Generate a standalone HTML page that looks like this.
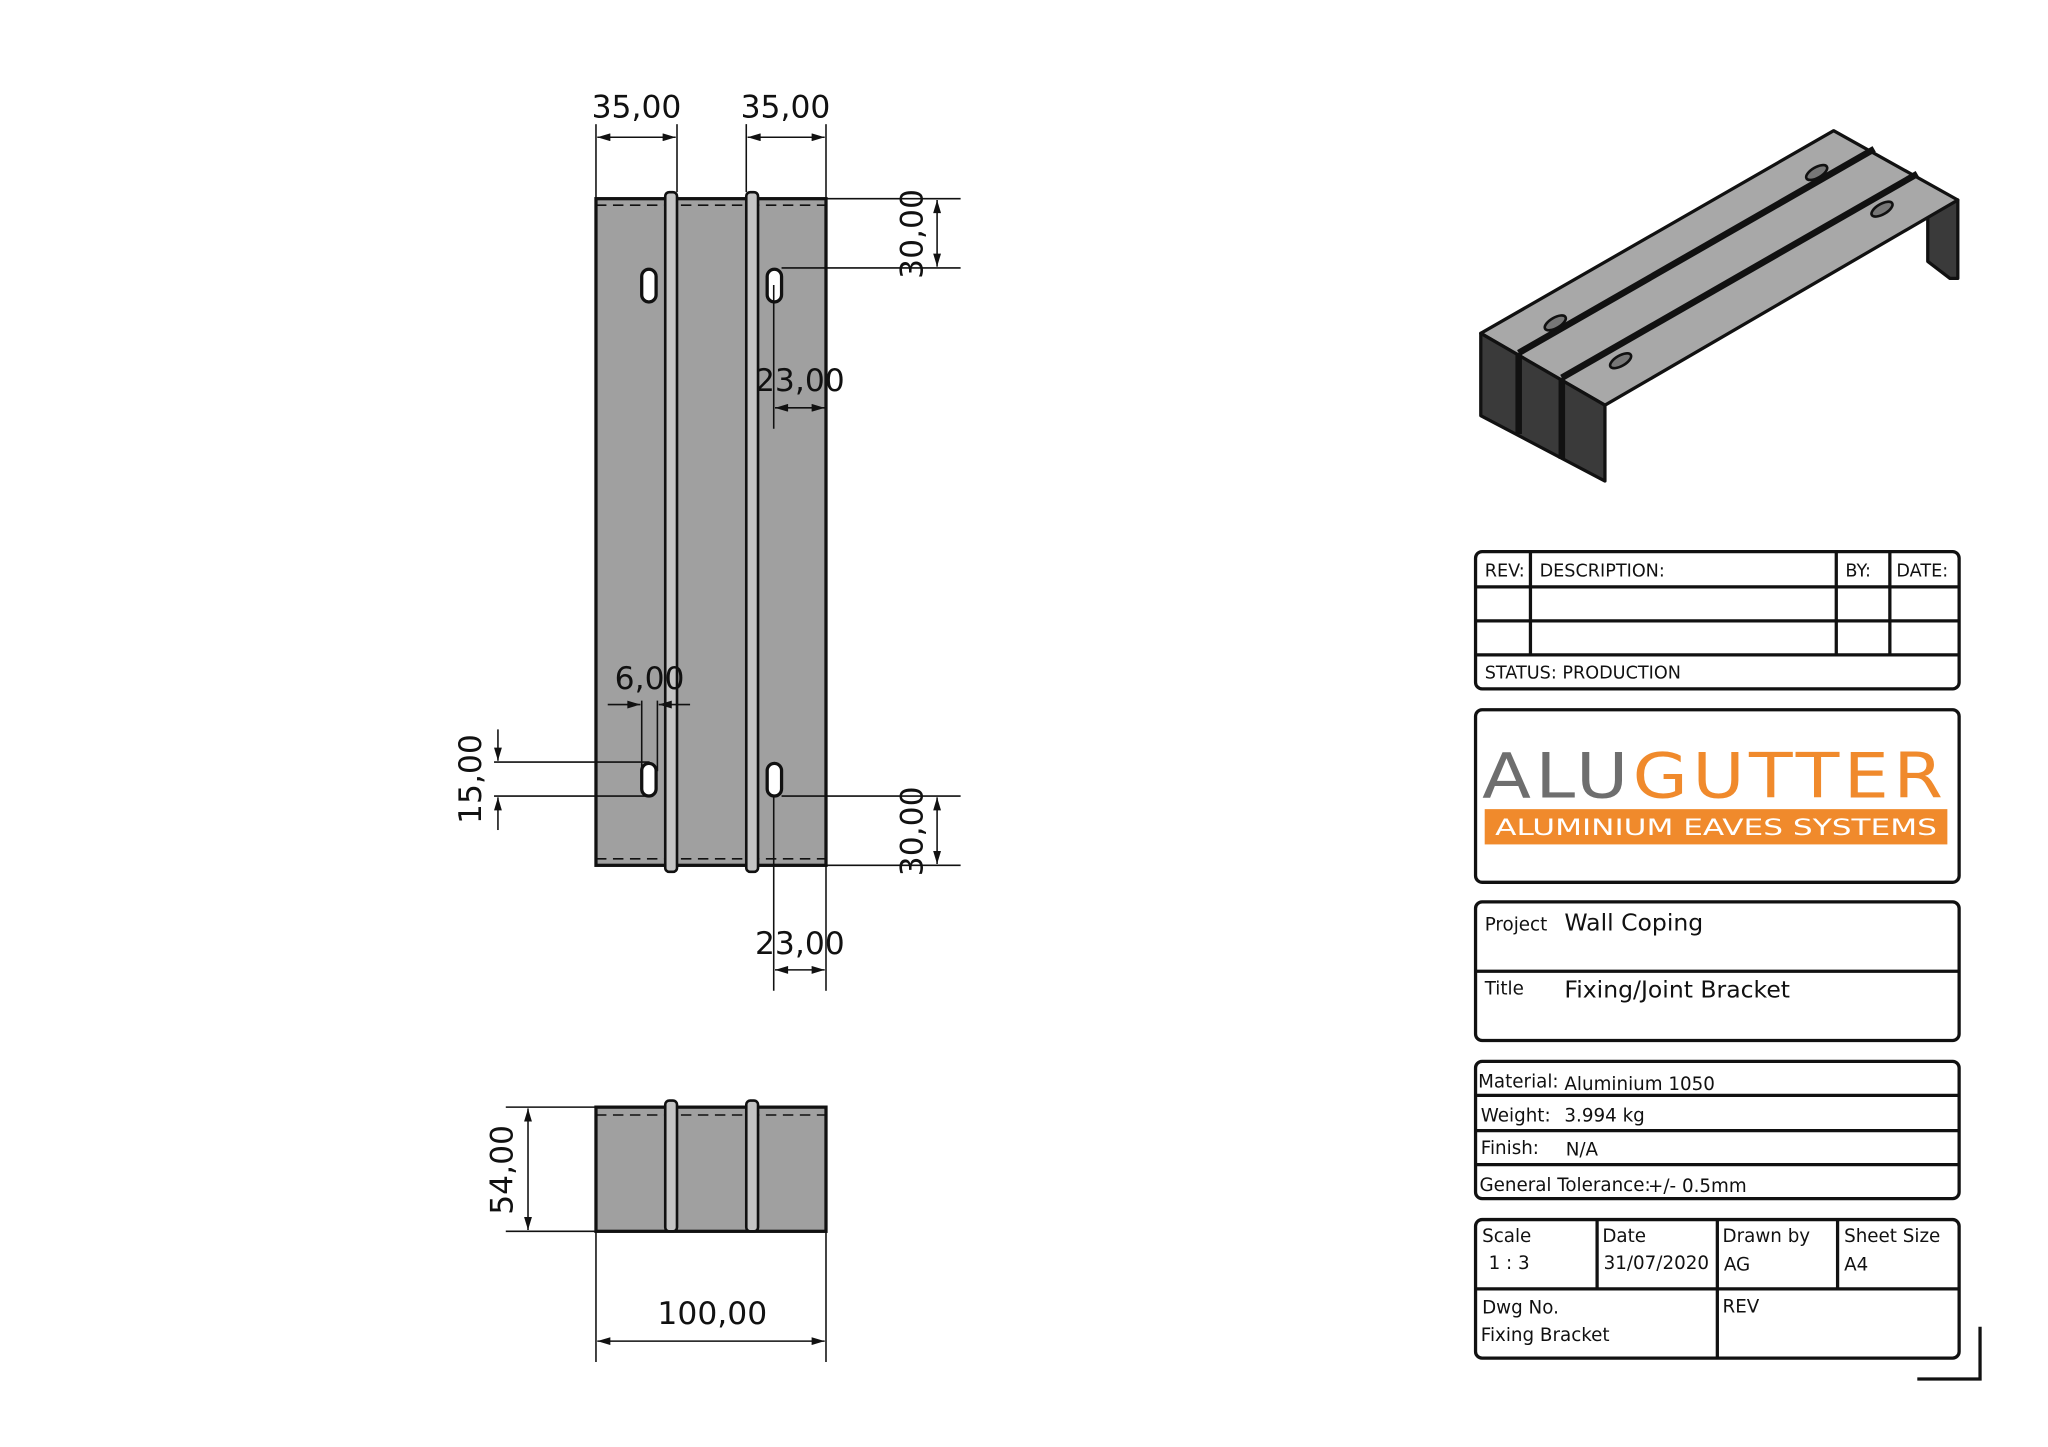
<!DOCTYPE html>
<html><head><meta charset="utf-8"><style>
html,body{margin:0;padding:0;background:#fff;}
svg{display:block;}
text{font-family:"DejaVu Sans","Liberation Sans",sans-serif;fill:#111;}
</style></head><body>
<svg width="2048" height="1447" viewBox="0 0 1567 1107" preserveAspectRatio="none" xmlns="http://www.w3.org/2000/svg">
<defs>
<marker id="a" viewBox="0 0 10 6" refX="10" refY="3" markerWidth="14" markerHeight="6" markerUnits="userSpaceOnUse" orient="auto-start-reverse"><path d="M0,0L10,3L0,6z" fill="#111"/></marker>
</defs>
<rect width="1567" height="1107" fill="#fff"/>
<!-- TOP VIEW -->
<g stroke="#111">
<rect x="456" y="152" width="176" height="510" fill="#a0a0a0" stroke-width="2.5"/>
<line x1="456" y1="157" x2="632" y2="157" stroke-dasharray="8,5" stroke-width="1.2"/>
<line x1="456" y1="657" x2="632" y2="657" stroke-dasharray="8,5" stroke-width="1.2"/>
<rect x="509" y="147" width="9" height="520" rx="3" fill="#c4c4c4" stroke-width="2"/>
<rect x="571" y="147" width="9" height="520" rx="3" fill="#c4c4c4" stroke-width="2"/>
<rect x="491" y="206" width="11" height="25" rx="5.5" fill="#fff" stroke-width="2.5"/>
<rect x="587" y="206" width="11" height="25" rx="5.5" fill="#fff" stroke-width="2.5"/>
<rect x="491" y="584" width="11" height="25" rx="5.5" fill="#fff" stroke-width="2.5"/>
<rect x="587" y="584" width="11" height="25" rx="5.5" fill="#fff" stroke-width="2.5"/>
</g>
<g stroke="#111" stroke-width="1.2" fill="none">
<line x1="456" y1="95" x2="456" y2="152"/><line x1="518" y1="95" x2="518" y2="147"/>
<line x1="457" y1="105" x2="517" y2="105" marker-start="url(#a)" marker-end="url(#a)"/>
<line x1="571" y1="95" x2="571" y2="147"/><line x1="632" y1="95" x2="632" y2="152"/>
<line x1="572" y1="105" x2="631" y2="105" marker-start="url(#a)" marker-end="url(#a)"/>
<line x1="632" y1="152" x2="735" y2="152"/><line x1="598" y1="205" x2="735" y2="205"/>
<line x1="717" y1="153" x2="717" y2="204" marker-start="url(#a)" marker-end="url(#a)"/>
<line x1="592" y1="218" x2="592" y2="328"/>
<line x1="593" y1="312" x2="631" y2="312" marker-start="url(#a)" marker-end="url(#a)"/>
<line x1="598" y1="609" x2="735" y2="609"/><line x1="632" y1="662" x2="735" y2="662"/>
<line x1="717" y1="610" x2="717" y2="661" marker-start="url(#a)" marker-end="url(#a)"/>
<line x1="592" y1="609" x2="592" y2="758"/><line x1="632" y1="662" x2="632" y2="758"/>
<line x1="593" y1="742" x2="631" y2="742" marker-start="url(#a)" marker-end="url(#a)"/>
<line x1="491" y1="536" x2="491" y2="590"/><line x1="503" y1="536" x2="503" y2="590"/>
<line x1="465" y1="539" x2="490" y2="539" marker-end="url(#a)"/>
<line x1="528" y1="539" x2="504" y2="539" marker-end="url(#a)"/>
<line x1="378" y1="583" x2="497" y2="583"/><line x1="378" y1="609" x2="497" y2="609"/>
<line x1="381" y1="558" x2="381" y2="582" marker-end="url(#a)"/>
<line x1="381" y1="635" x2="381" y2="610" marker-end="url(#a)"/>
<line x1="387" y1="847" x2="456" y2="847"/><line x1="387" y1="942" x2="456" y2="942"/>
<line x1="404" y1="848" x2="404" y2="941" marker-start="url(#a)" marker-end="url(#a)"/>
<line x1="456" y1="942" x2="456" y2="1042"/><line x1="632" y1="942" x2="632" y2="1042"/>
<line x1="457" y1="1026" x2="631" y2="1026" marker-start="url(#a)" marker-end="url(#a)"/>
</g>
<g font-size="24" text-anchor="middle">
<text x="487" y="90">35,00</text><text x="601" y="90">35,00</text>
<text x="612" y="299">23,00</text><text x="612" y="730">23,00</text>
<text x="497" y="527">6,00</text>
<text x="545" y="1013">100,00</text>
<text transform="translate(706,179) rotate(-90)">30,00</text>
<text transform="translate(706,636) rotate(-90)">30,00</text>
<text transform="translate(368,596) rotate(-90)">15,00</text>
<text transform="translate(392,895) rotate(-90)">54,00</text>
</g>
<!-- FRONT VIEW -->
<g stroke="#111">
<rect x="456" y="847" width="176" height="95" fill="#a0a0a0" stroke-width="2.5"/>
<line x1="456" y1="853" x2="632" y2="853" stroke-dasharray="8,5" stroke-width="1.2"/>
<rect x="509" y="842" width="9" height="100" rx="3" fill="#c4c4c4" stroke-width="2"/>
<rect x="571" y="842" width="9" height="100" rx="3" fill="#c4c4c4" stroke-width="2"/>
</g>
<!-- ISO VIEW -->
<g stroke="#111" stroke-width="2.5" stroke-linejoin="round">
<polygon points="1498,153 1498,213 1492,213 1475,200 1475,166" fill="#3a3a3a"/>
<polygon points="1133,255 1403,100 1498,153 1228,310" fill="#a8a8a8"/>
<polygon points="1133,255 1228,310 1228,368 1133,318" fill="#3a3a3a"/>
<line x1="1162" y1="270" x2="1434" y2="114" stroke-width="5"/>
<line x1="1195" y1="289" x2="1467" y2="133" stroke-width="5"/>
<line x1="1162" y1="270" x2="1162" y2="332" stroke-width="5"/>
<line x1="1195" y1="289" x2="1195" y2="351" stroke-width="5"/>
<ellipse cx="1190" cy="247" rx="9" ry="4" fill="#777" transform="rotate(-30 1190 247)" stroke-width="2"/>
<ellipse cx="1390" cy="132" rx="9" ry="4" fill="#777" transform="rotate(-30 1390 132)" stroke-width="2"/>
<ellipse cx="1240" cy="276" rx="9" ry="4" fill="#777" transform="rotate(-30 1240 276)" stroke-width="2"/>
<ellipse cx="1440" cy="160" rx="9" ry="4" fill="#777" transform="rotate(-30 1440 160)" stroke-width="2"/>
</g>
<!-- TITLE BLOCK -->
<g stroke="#111" stroke-width="2.5" fill="none">
<rect x="1129" y="422" width="370" height="105" rx="5"/>
<line x1="1129" y1="449" x2="1499" y2="449"/><line x1="1129" y1="475" x2="1499" y2="475"/><line x1="1129" y1="501" x2="1499" y2="501"/>
<line x1="1171" y1="422" x2="1171" y2="501"/><line x1="1405" y1="422" x2="1405" y2="501"/><line x1="1446" y1="422" x2="1446" y2="501"/>
<rect x="1129" y="543" width="370" height="132" rx="5"/>
<rect x="1129" y="690" width="370" height="106" rx="5"/>
<line x1="1129" y1="743" x2="1499" y2="743"/>
<rect x="1129" y="812" width="370" height="105" rx="5"/>
<line x1="1129" y1="838" x2="1499" y2="838"/><line x1="1129" y1="865" x2="1499" y2="865"/><line x1="1129" y1="891" x2="1499" y2="891"/>
<rect x="1129" y="933" width="370" height="106" rx="5"/>
<line x1="1129" y1="986" x2="1499" y2="986"/>
<line x1="1222" y1="933" x2="1222" y2="986"/><line x1="1314" y1="933" x2="1314" y2="1039"/><line x1="1406" y1="933" x2="1406" y2="986"/>
<polyline points="1515,1015 1515,1055 1467,1055"/>
</g>
<g font-size="13.5">
<text x="1136" y="441">REV:</text><text x="1178" y="441">DESCRIPTION:</text><text x="1412" y="441">BY:</text><text x="1451" y="441">DATE:</text>
<text x="1136" y="519">STATUS: PRODUCTION</text>
</g>
<text x="1134" y="610" font-size="48" letter-spacing="3" textLength="356" lengthAdjust="spacingAndGlyphs"><tspan style="fill:#6e6e6e">ALU</tspan><tspan style="fill:#f08a2c">GUTTER</tspan></text>
<rect x="1136" y="619" width="354" height="27" fill="#f08a2c"/>
<text x="1313" y="639" font-size="17" text-anchor="middle" style="fill:#fff" textLength="338" lengthAdjust="spacingAndGlyphs">ALUMINIUM EAVES SYSTEMS</text>
<g font-size="14">
<text x="1136" y="712">Project</text><text x="1136" y="761">Title</text>
<text x="1131" y="832">Material:</text><text x="1133" y="858">Weight:</text><text x="1133" y="883">Finish:</text><text x="1132" y="911">General Tolerance:</text>
<text x="1134" y="950">Scale</text><text x="1226" y="950">Date</text><text x="1318" y="950">Drawn by</text><text x="1411" y="950">Sheet Size</text>
<text x="1139" y="971">1 : 3</text><text x="1227" y="971">31/07/2020</text><text x="1319" y="972">AG</text><text x="1411" y="972">A4</text>
<text x="1134" y="1005">Dwg No.</text><text x="1133" y="1026">Fixing Bracket</text><text x="1318" y="1004">REV</text>
</g>
<g font-size="18">
<text x="1197" y="712">Wall Coping</text><text x="1197" y="763">Fixing/Joint Bracket</text>
</g>
<g font-size="14">
<text x="1197" y="834">Aluminium 1050</text><text x="1197" y="858">3.994 kg</text><text x="1198" y="884">N/A</text><text x="1261" y="912">+/- 0.5mm</text>
</g>
</svg>
</body></html>
